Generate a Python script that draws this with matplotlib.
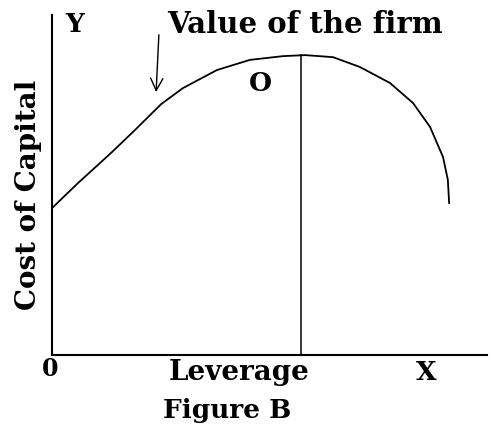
import matplotlib
matplotlib.use("Agg")
import matplotlib.pyplot as plt

# Value-of-the-firm curve (leverage, value)
leverage = [0.00, 0.60, 1.03, 1.38, 1.91, 2.51, 3.01, 3.79, 4.55, 5.31,
            5.82, 6.46, 7.08, 7.77, 8.30, 8.69, 8.99, 9.10, 9.13]
firm_value = [4.32, 5.06, 5.56, 5.97, 6.62, 7.38, 7.85, 8.38, 8.68, 8.79,
              8.82, 8.76, 8.47, 8.00, 7.41, 6.71, 5.82, 5.15, 4.47]

optimum_leverage = 5.72
optimum_value = 8.82

plt.rcParams['font.family'] = ['DejaVu Serif']

fig = plt.figure(figsize=(4.93, 4.28), dpi=100)
ax = fig.add_axes([52 / 493, 73 / 428, 435 / 493, 340 / 428])
ax.set_xlim(0, 10)
ax.set_ylim(0, 10)

ax.plot(leverage, firm_value, color='black', lw=1.3, solid_joinstyle='round')
ax.plot([optimum_leverage, optimum_leverage], [0, optimum_value], color='black', lw=1.1)

# axes drawn as plain lines
for side in ['top', 'right']:
    ax.spines[side].set_visible(False)
for side in ['left', 'bottom']:
    ax.spines[side].set_linewidth(1.5)
ax.set_xticks([])
ax.set_yticks([])

ax.annotate('', xy=(2.39, 7.65), xytext=(2.46, 9.50),
            arrowprops=dict(arrowstyle='->', color='black', lw=1.0,
                            mutation_scale=22))

bold = dict(fontweight='bold', color='black', clip_on=False)
ax.text(2.64, 9.71, 'Value of the firm', fontsize=21, ha='left', va='center', **bold)
ax.text(0.53, 9.71, 'Y', fontsize=19, ha='center', va='center', **bold)
ax.text(4.78, 8.0, 'O', fontsize=19, ha='center', va='center', **bold)
ax.text(-0.55, 4.71, 'Cost of Capital', fontsize=20, rotation=90,
        ha='center', va='center', **bold)
ax.text(-0.05, -0.40, '0', fontsize=17, ha='center', va='center', **bold)
ax.text(4.30, -0.52, 'Leverage', fontsize=20, ha='center', va='center', **bold)
ax.text(8.60, -0.50, 'X', fontsize=19, ha='center', va='center', **bold)
ax.text(4.02, -1.62, 'Figure B', fontsize=19, ha='center', va='center', **bold)

fig.savefig('out.png', dpi=100)
